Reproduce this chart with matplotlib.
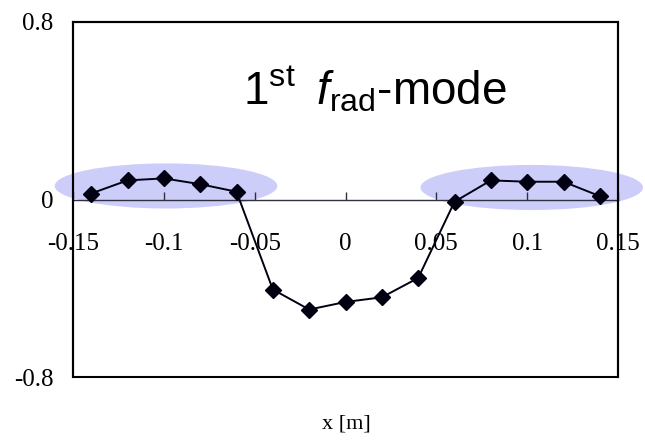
import matplotlib.pyplot as plt
from matplotlib.patches import Ellipse, Rectangle

plt.rcParams['mathtext.fontset'] = 'custom'
plt.rcParams['mathtext.rm'] = 'Liberation Sans'
plt.rcParams['mathtext.it'] = 'Liberation Sans:italic'

# measured positions along x [m] and mode amplitude
x_pos = [-0.14, -0.12, -0.10, -0.08, -0.06, -0.04, -0.02, 0.00,
         0.02, 0.04, 0.06, 0.08, 0.10, 0.12, 0.14]
amp = [0.027, 0.086, 0.095, 0.069, 0.035, -0.405, -0.495, -0.461,
       -0.44, -0.353, -0.01, 0.086, 0.08, 0.08, 0.015]

x_ticks = [-0.15, -0.1, -0.05, 0, 0.05, 0.1, 0.15]
x_ticklabels = ['-0.15', '-0.1', '-0.05', '0', '0.05', '0.1', '0.15']
y_ticks = [-0.8, 0, 0.8]
y_ticklabels = ['-0.8', '0', '0.8']

# highlighted regions (center x, center y, width, height)
highlight_x = [-0.0988, 0.1025]
highlight_y = [0.061, 0.054]
highlight_w = 0.1225
highlight_h = 0.203

fig = plt.figure(figsize=(6.45, 4.41), dpi=100)
ax = fig.add_axes([0.1132, 0.1444, 0.845, 0.8064])

for cx, cy in zip(highlight_x, highlight_y):
    ax.add_patch(Ellipse((cx, cy), highlight_w, highlight_h, facecolor='#c8c8fa',
                         edgecolor='none', alpha=0.9, clip_on=False, zorder=1))

ax.plot(x_pos, amp, color='#000010', lw=1.4, marker='D', markersize=8.5,
        zorder=3, clip_on=False)

ax.set_xlim(-0.15, 0.15)
ax.set_ylim(-0.8, 0.8)

# zero axis carries the x ticks
ax.spines['bottom'].set_position(('data', 0))
ax.spines['bottom'].set_linewidth(1.0)
ax.spines['bottom'].set_color('#303040')
ax.spines['bottom'].set_zorder(2)
for s in ['left', 'right', 'top']:
    ax.spines[s].set_linewidth(1.5)
    ax.spines[s].set_color('black')
    ax.spines[s].set_zorder(4)
ax.add_patch(Rectangle((0, 0), 1, 1, transform=ax.transAxes, fill=False,
                       lw=1.5, edgecolor='black', clip_on=False, zorder=4))

ax.set_xticks(x_ticks)
ax.set_xticklabels(x_ticklabels, fontfamily='Liberation Serif', fontsize=18)
ax.set_yticks(y_ticks)
ax.set_yticklabels(y_ticklabels, fontfamily='Liberation Serif', fontsize=18)
ax.tick_params(axis='x', direction='in', length=6, width=1, color='#303040', pad=24)
ax.tick_params(axis='y', length=0, pad=14)

ax.text(0.016, 0.428, r'1$^{\rm st}\;\;f_{\rm rad}$-mode', fontfamily='Liberation Sans',
        fontsize=33, ha='center', va='baseline')

fig.text(346 / 645, 1 - 424 / 441, 'x [m]', fontfamily='Liberation Serif', fontsize=16,
         ha='center', va='center')

fig.savefig('out.png', dpi=100)
